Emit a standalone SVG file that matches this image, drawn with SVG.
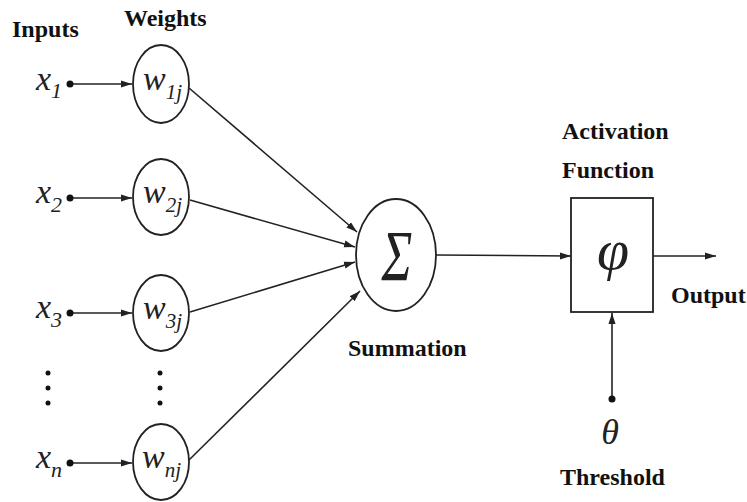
<svg xmlns="http://www.w3.org/2000/svg" width="747" height="502" viewBox="0 0 747 502">
<style>
.lbl{font-family:'Liberation Serif','Times New Roman',Times,'DejaVu Serif',serif;font-weight:bold;font-size:24px;fill:#111}
.mi{font-family:'Liberation Serif','Times New Roman',Times,'DejaVu Serif',serif;font-style:italic;fill:#222}
.node{fill:#fff;stroke:#222;stroke-width:1.8}
.con{stroke:#222;stroke-width:1.6;fill:none}
.dot{fill:#111}
</style>
<defs>
<marker id="ah" markerUnits="userSpaceOnUse" markerWidth="12" markerHeight="8" refX="11" refY="4" orient="auto">
<path d="M0,0.5 L11,4 L0,7.5 z" fill="#222"/>
</marker>
</defs>
<rect width="747" height="502" fill="#fff"/>
<text class="lbl" x="12" y="37">Inputs</text>
<text class="lbl" x="124" y="26">Weights</text>
<text class="lbl" x="348" y="356">Summation</text>
<text class="lbl" x="562" y="139">Activation</text>
<text class="lbl" x="562" y="178">Function</text>
<text class="lbl" x="671" y="303">Output</text>
<text class="lbl" x="560" y="485">Threshold</text>

<g id="connectors">
<line class="con" x1="70" y1="84" x2="132" y2="84" marker-end="url(#ah)"/>
<line class="con" x1="70" y1="198" x2="132" y2="198" marker-end="url(#ah)"/>
<line class="con" x1="70" y1="313" x2="132" y2="313" marker-end="url(#ah)"/>
<line class="con" x1="70" y1="463" x2="132" y2="463" marker-end="url(#ah)"/>
<line class="con" x1="189" y1="88" x2="357" y2="232" marker-end="url(#ah)"/>
<line class="con" x1="190" y1="200" x2="355" y2="247" marker-end="url(#ah)"/>
<line class="con" x1="190" y1="312" x2="355" y2="262" marker-end="url(#ah)"/>
<line class="con" x1="189" y1="460" x2="360" y2="291" marker-end="url(#ah)"/>
<line class="con" x1="436" y1="255" x2="571" y2="256" marker-end="url(#ah)"/>
<line class="con" x1="653" y1="256" x2="716" y2="256" marker-end="url(#ah)"/>
<line class="con" x1="612" y1="399" x2="612" y2="313" marker-end="url(#ah)"/>
</g>

<g id="x1"><circle class="dot" cx="70" cy="84" r="3.5"/><text class="mi" x="36" y="90" font-size="34">x<tspan font-size="22" dy="8">1</tspan></text></g>
<g id="x2"><circle class="dot" cx="70" cy="198" r="3.5"/><text class="mi" x="36" y="203" font-size="34">x<tspan font-size="22" dy="9">2</tspan></text></g>
<g id="x3"><circle class="dot" cx="70" cy="313" r="3.5"/><text class="mi" x="36" y="318" font-size="34">x<tspan font-size="22" dy="9">3</tspan></text></g>
<g id="xn"><circle class="dot" cx="70" cy="463" r="3.5"/><text class="mi" x="36" y="468" font-size="34">x<tspan font-size="22" dy="9">n</tspan></text></g>

<g id="dots-x"><circle class="dot" cx="48" cy="373" r="2.5"/><circle class="dot" cx="48" cy="388" r="2.5"/><circle class="dot" cx="48" cy="403" r="2.5"/></g>
<g id="dots-w"><circle class="dot" cx="160" cy="373" r="2.5"/><circle class="dot" cx="160" cy="388" r="2.5"/><circle class="dot" cx="160" cy="403" r="2.5"/></g>

<g id="w1j"><ellipse class="node" cx="161" cy="84" rx="28" ry="39"/><text class="mi" x="143" y="90" font-size="34">w<tspan font-size="21" dy="9">1j</tspan></text></g>
<g id="w2j"><ellipse class="node" cx="161" cy="197" rx="28" ry="38"/><text class="mi" x="143" y="203" font-size="34">w<tspan font-size="21" dy="9">2j</tspan></text></g>
<g id="w3j"><ellipse class="node" cx="161" cy="313" rx="28" ry="38"/><text class="mi" x="143" y="319" font-size="34">w<tspan font-size="21" dy="9">3j</tspan></text></g>
<g id="wnj"><ellipse class="node" cx="161" cy="462" rx="28" ry="38"/><text class="mi" x="142" y="468" font-size="34">w<tspan font-size="21" dy="9">nj</tspan></text></g>

<g id="sum"><ellipse class="node" cx="396" cy="255" rx="40" ry="56"/><text class="mi" transform="translate(397,280) scale(0.72,1)" text-anchor="middle" font-size="72" font-style="normal" fill="#111">Σ</text></g>

<g id="activation"><rect class="node" x="571" y="198" width="82" height="114"/><text class="mi" x="613" y="269" font-size="58" text-anchor="middle">φ</text></g>

<g id="threshold"><circle class="dot" cx="612" cy="399" r="3.5"/><text class="mi" x="610" y="444" font-size="36" text-anchor="middle">θ</text></g>
</svg>
